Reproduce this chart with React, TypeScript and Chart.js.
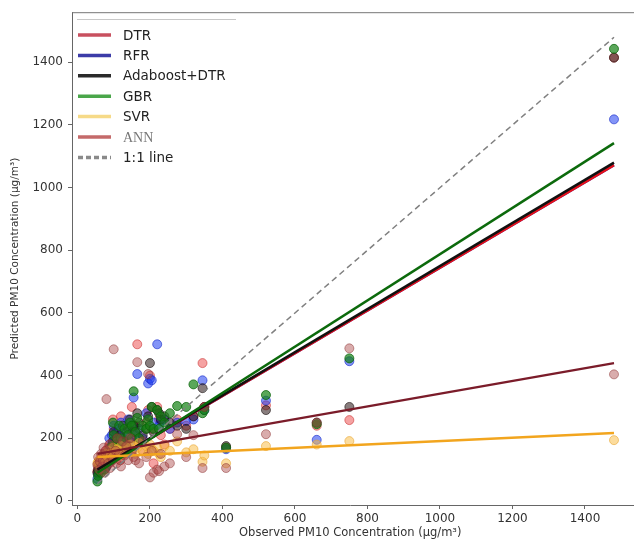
import { useEffect, useRef } from 'react';
import { Chart, registerables } from 'chart.js';

Chart.register(...registerables);

// Observed PM10 concentrations (shared x for every model)
const observed = [
  55, 57, 60, 62, 65, 68, 70, 72, 75, 78,
  80, 85, 88, 90, 95, 98, 100, 105, 108, 110,
  115, 118, 120, 125, 130, 135, 140, 145, 150, 155,
  160, 165, 170, 180, 190, 195, 200, 205, 210, 220,
  225, 230, 240, 255, 275, 300, 320, 345, 350, 410,
  520, 660, 750, 1480,
];

const dtrPred = [
  95, 110, 120, 130, 105, 140, 125, 150, 100, 160,
  135, 170, 120, 180, 150, 260, 230, 140, 200, 160,
  190, 130, 270, 175, 150, 210, 160, 230, 300, 180,
  240, 500, 200, 160, 250, 290, 400, 230, 120, 300,
  260, 210, 180, 230, 260, 240, 270, 440, 300, 170,
  305, 240, 258, 1415,
];

const rfrPred = [
  70, 85, 95, 110, 120, 100, 130, 115, 140, 105,
  150, 120, 200, 140, 210, 180, 240, 160, 220, 190,
  230, 170, 250, 200, 180, 220, 260, 190, 240, 330,
  210, 405, 230, 200, 280, 375, 390, 385, 250, 500,
  240, 255, 260, 230, 250, 255, 260, 385, 290, 165,
  320, 195, 446, 1218,
];

const adaPred = [
  90, 100, 110, 95, 130, 115, 140, 120, 150, 130,
  110, 160, 140, 170, 130, 190, 220, 150, 180, 200,
  170, 210, 160, 240, 190, 180, 230, 260, 200, 240,
  220, 280, 250, 210, 230, 270, 440, 300, 220, 290,
  280, 260, 270, 250, 240, 230, 270, 360, 300, 175,
  290, 250, 300, 1415,
];

const gbrPred = [
  62, 80, 95, 105, 90, 120, 110, 130, 100, 140,
  125, 150, 135, 160, 175, 250, 210, 140, 190, 170,
  240, 150, 200, 185, 230, 170, 210, 250, 240, 350,
  220, 265, 200, 240, 230, 260, 240, 300, 230, 290,
  230, 270, 250, 280, 303, 300, 372, 280, 290, 170,
  338, 245, 455, 1443,
];

const svrPred = [
  120, 125, 130, 115, 135, 140, 125, 145, 130, 150,
  140, 160, 135, 150, 145, 170, 155, 140, 165, 150,
  160, 145, 175, 150, 165, 155, 170, 180, 160, 175,
  150, 170, 185, 160, 175, 150, 180, 165, 160, 170,
  150, 140, 175, 160, 190, 155, 165, 125, 145, 120,
  175, 180, 191, 194,
];

const annPred = [
  115, 140, 100, 125, 150, 110, 130, 170, 90, 160,
  325, 120, 180, 105, 140, 130, 484, 160, 120, 200,
  150, 130, 110, 190, 145, 175, 130, 200, 160, 140,
  130, 443, 120, 190, 140, 405, 75, 160, 90, 100,
  95, 150, 110, 120, 213, 140, 210, 105, 300, 105,
  213, 250, 487, 404,
];

// Regression line end points (x at both ends, then y for each model)
const fitRange = [55, 1480];
const dtrFit = [100, 1072];
const rfrFit = [100, 1072];
const adaFit = [100, 1080];
const gbrFit = [90, 1142];
const svrFit = [140, 217];
const annFit = [150, 440];
const identityFit = [55, 1480];

const xTicks = [0, 200, 400, 600, 800, 1000, 1200, 1400];
const yTicks = [0, 200, 400, 600, 800, 1000, 1200, 1400];

const legendLabels = ['DTR', 'RFR', 'Adaboost+DTR', 'GBR', 'SVR', 'ANN', '1:1 line'];
const legendColors = ['#c8505f', '#3c3ca8', '#2a2a2a', '#4aa64a', '#f6da88', '#c46a6a', '#8a8a8a'];

export default function App() {
  const ref = useRef<HTMLCanvasElement>(null);

  useEffect(() => {
    document.body.style.margin = '0';
    const canvas = ref.current;
    if (!canvas) return;

    const pts = (ys: number[]) => observed.map((x, i) => ({ x, y: ys[i] }));
    const fit = (ys: number[]) => fitRange.map((x, i) => ({ x, y: ys[i] }));

    const scatter = (label: string, ys: number[], bg: string, border: string) => ({
      type: 'scatter' as const,
      label,
      data: pts(ys),
      backgroundColor: bg,
      borderColor: border,
      borderWidth: 1,
      pointRadius: 4.5,
      showLine: false,
    });
    const line = (label: string, ys: number[], color: string, width: number, dash: number[] = []) => ({
      type: 'scatter' as const,
      label,
      data: fit(ys),
      borderColor: color,
      backgroundColor: color,
      borderWidth: width,
      borderDash: dash,
      pointRadius: 0,
      showLine: true,
    });

    const seq: any[] = [
      scatter('DTR', dtrPred, 'rgba(235,70,70,0.5)', 'rgba(200,40,40,0.55)'),
      scatter('RFR', rfrPred, 'rgba(30,60,240,0.55)', 'rgba(20,40,200,0.6)'),
      scatter('Adaboost+DTR', adaPred, 'rgba(40,20,20,0.55)', 'rgba(20,10,10,0.6)'),
      scatter('GBR', gbrPred, 'rgba(20,130,20,0.7)', 'rgba(10,100,10,0.75)'),
      scatter('SVR', svrPred, 'rgba(250,185,60,0.5)', 'rgba(230,160,40,0.55)'),
      scatter('ANN', annPred, 'rgba(170,70,70,0.45)', 'rgba(140,50,50,0.5)'),
      line('RFR fit', rfrFit, '#2030c0', 2.5),
      line('DTR fit', dtrFit, '#e8101a', 2.5),
      line('Adaboost+DTR fit', adaFit, '#111111', 2.5),
      line('GBR fit', gbrFit, '#0c6a0c', 2.5),
      line('SVR fit', svrFit, '#f2a51e', 2.5),
      line('ANN fit', annFit, '#7b1c2a', 2.2),
      line('1:1 line', identityFit, '#808080', 1.5, [6, 4]),
    ];
    seq.forEach((d, i) => { d.order = seq.length - i; });

    const legendPlugin = {
      id: 'customLegend',
      afterDraw(chart: any) {
        const ctx = chart.ctx;
        const { left, top, bottom } = chart.chartArea;
        const w = chart.width;
        ctx.save();
        // top spine and bottom spine run to the canvas edge
        ctx.strokeStyle = '#777';
        ctx.lineWidth = 1;
        ctx.beginPath();
        ctx.moveTo(left, top + 0.5);
        ctx.lineTo(w, top + 0.5);
        ctx.stroke();
        ctx.strokeStyle = '#666';
        ctx.beginPath();
        ctx.moveTo(chart.chartArea.right - 1, bottom + 0.5);
        ctx.lineTo(w, bottom + 0.5);
        ctx.stroke();
        // faint legend frame line
        ctx.strokeStyle = '#c8c8c8';
        ctx.beginPath();
        ctx.moveTo(77, 19.5);
        ctx.lineTo(236, 19.5);
        ctx.stroke();
        legendLabels.forEach((lab, i) => {
          const y = 35 + i * 20.4;
          ctx.strokeStyle = legendColors[i];
          ctx.lineWidth = 3.5;
          ctx.setLineDash(i === 6 ? [5, 3] : []);
          ctx.beginPath();
          ctx.moveTo(78, y);
          ctx.lineTo(111, y);
          ctx.stroke();
          ctx.setLineDash([]);
          ctx.textBaseline = 'middle';
          ctx.textAlign = 'left';
          if (lab === 'ANN') {
            ctx.font = '14px "Liberation Serif"';
            ctx.fillStyle = '#777';
          } else {
            ctx.font = '13.5px "DejaVu Sans"';
            ctx.fillStyle = '#222';
          }
          ctx.fillText(lab, 123, y + 1);
        });
        ctx.restore();
      },
    };

    const chart = new Chart(canvas, {
      type: 'scatter',
      data: { datasets: seq },
      options: {
        animation: false,
        responsive: false,
        layout: { padding: { top: 12, right: 0, left: 0, bottom: 0 } },
        plugins: { legend: { display: false }, tooltip: { enabled: false } },
        scales: {
          x: {
            type: 'linear',
            min: -15,
            max: 1520,
            afterFit: (s: any) => { s.height = 37; },
            afterBuildTicks: (s: any) => { s.ticks = xTicks.map((v) => ({ value: v })); },
            ticks: {
              includeBounds: false,
              stepSize: 200,
              maxRotation: 0,
              autoSkip: false,
              padding: 3,
              color: '#333',
              font: { family: 'DejaVu Sans', size: 12 },
              callback: (v: any) => String(v),
            },
            grid: { drawOnChartArea: false, drawTicks: true, tickLength: 4, color: '#666' },
            border: { display: true, color: '#666', width: 1 },
            title: {
              display: true,
              text: 'Observed PM10 Concentration (μg/m³)',
              color: '#333',
              font: { family: 'DejaVu Sans', size: 11.5 },
              padding: { top: 0, bottom: 2 },
            },
          },
          y: {
            type: 'linear',
            min: -13,
            max: 1560,
            afterFit: (s: any) => { s.width = 72; },
            afterBuildTicks: (s: any) => { s.ticks = yTicks.map((v) => ({ value: v })); },
            ticks: {
              includeBounds: false,
              stepSize: 200,
              autoSkip: false,
              padding: 5,
              color: '#333',
              font: { family: 'DejaVu Sans', size: 12 },
              callback: (v: any) => String(v),
            },
            grid: { drawOnChartArea: false, drawTicks: true, tickLength: 4, color: '#666' },
            border: { display: true, color: '#666', width: 1 },
            title: {
              display: true,
              text: 'Predicted PM10 Concentration (μg/m³)',
              color: '#333',
              font: { family: 'DejaVu Sans', size: 10.5 },
              padding: { top: 9, bottom: 0 },
            },
          },
        },
      },
      plugins: [legendPlugin],
    } as any);

    return () => chart.destroy();
  }, []);

  return (
    <div style={{ position: 'absolute', left: 0, top: 0, width: 634, height: 542 }}>
      <canvas ref={ref} width={634} height={542} style={{ display: 'block' }} />
    </div>
  );
}
